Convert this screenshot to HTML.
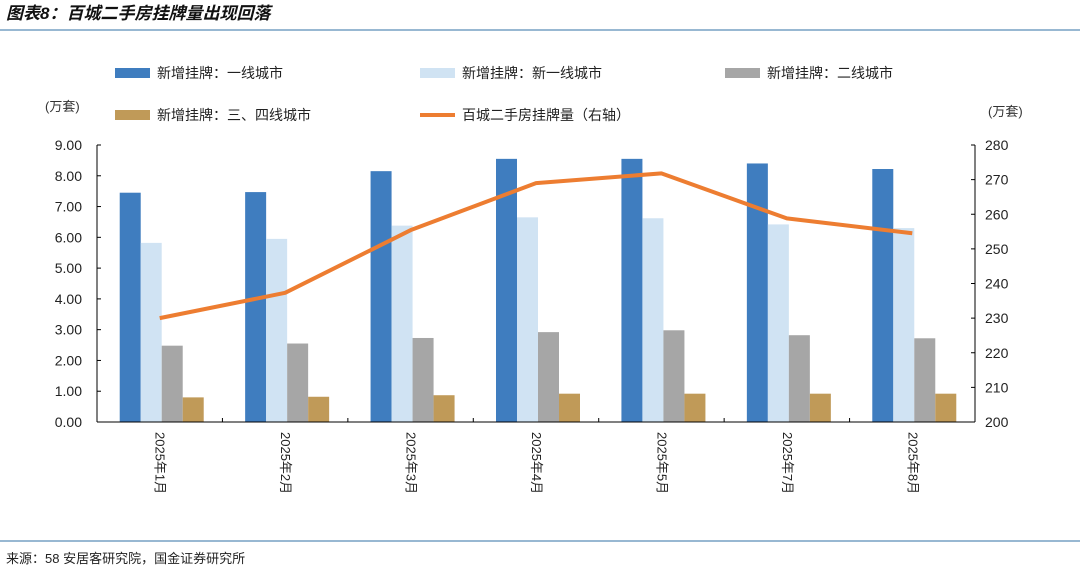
<!DOCTYPE html>
<html><head><meta charset="utf-8"><style>
body{margin:0;background:#fff;width:1080px;height:572px;overflow:hidden;font-family:"Liberation Sans","Noto Sans CJK SC",sans-serif}
svg text{font-family:"Liberation Sans","Noto Sans CJK SC",sans-serif}
</style></head><body>
<svg id="c" width="1080" height="572">
<text x="6" y="19" font-size="17" font-weight="bold" font-style="italic" fill="#111">图表8：百城二手房挂牌量出现回落</text>
<line x1="0" y1="30" x2="1080" y2="30" stroke="#5b8db8" stroke-width="1.2"/>
<line x1="0" y1="541" x2="1080" y2="541" stroke="#5b8db8" stroke-width="1.2"/>
<text x="6" y="563" font-size="13" fill="#222">来源：58 安居客研究院，国金证券研究所</text>
<text x="45" y="111" font-size="13" fill="#333">(万套)</text>
<text x="988" y="116" font-size="13" fill="#333">(万套)</text>
<g>
<rect x="115" y="68" width="35" height="10" fill="#3f7dbf"/>
<text x="157" y="78" font-size="14" fill="#222">新增挂牌：一线城市</text>
<rect x="420" y="68" width="35" height="10" fill="#d0e3f3"/>
<text x="462" y="78" font-size="14" fill="#222">新增挂牌：新一线城市</text>
<rect x="725" y="68" width="35" height="10" fill="#a6a6a6"/>
<text x="767" y="78" font-size="14" fill="#222">新增挂牌：二线城市</text>
<rect x="115" y="110" width="35" height="10" fill="#c09a58"/>
<text x="157" y="120" font-size="14" fill="#222">新增挂牌：三、四线城市</text>
<line x1="420" y1="115" x2="455" y2="115" stroke="#ed7d31" stroke-width="4"/>
<text x="462" y="120" font-size="14" fill="#222">百城二手房挂牌量（右轴）</text>
</g>
<g id="plot"></g>
</svg>
<script>
const categories=["2025年1月","2025年2月","2025年3月","2025年4月","2025年5月","2025年7月","2025年8月"];
const tier1=[7.45,7.47,8.15,8.55,8.55,8.40,8.22];
const newTier1=[5.82,5.95,6.38,6.65,6.62,6.42,6.30];
const tier2=[2.48,2.55,2.73,2.92,2.98,2.82,2.72];
const tier34=[0.80,0.82,0.87,0.92,0.92,0.92,0.92];
const listings=[230.0,237.3,255.4,269.0,271.8,258.8,254.5];
const leftTicks=[0,1,2,3,4,5,6,7,8,9];
const rightTicks=[200,210,220,230,240,250,260,270,280];
const X0=97,X1=975,Y0=422,Y1=145;
const NS="http://www.w3.org/2000/svg";
const g=document.getElementById('plot');
const bw=(X1-X0)/categories.length;
const yL=v=>Y0-(v/9)*(Y0-Y1);
const yR=v=>Y0-((v-200)/80)*(Y0-Y1);
const xC=i=>X0+bw*(i+0.5);
function mk(t,a){const e=document.createElementNS(NS,t);for(const k in a)e.setAttribute(k,a[k]);g.appendChild(e);return e;}
const series=[[tier1,"#3f7dbf","bar-tier1"],[newTier1,"#d0e3f3","bar-new-tier1"],[tier2,"#a6a6a6","bar-tier2"],[tier34,"#c09a58","bar-tier34"]];
const w=21;
series.forEach((s,si)=>{s[0].forEach((v,i)=>{
const r=mk('rect',{x:xC(i)-2*w+2+si*w,y:yL(v),width:w,height:Y0-yL(v),fill:s[1]});


});});
let a=mk('line',{x1:X0,y1:Y1,x2:X0,y2:Y0,stroke:'#000','stroke-width':1});

a=mk('line',{x1:X1,y1:Y1,x2:X1,y2:Y0,stroke:'#000','stroke-width':1});

a=mk('line',{x1:X0,y1:Y0,x2:X1,y2:Y0,stroke:'#000','stroke-width':1});

leftTicks.forEach(v=>{
mk('line',{x1:X0,y1:yL(v),x2:X0+4,y2:yL(v),stroke:'#000'});
const t=mk('text',{x:X0-15,y:yL(v)+5,'font-size':14,'text-anchor':'end',fill:'#222'});t.textContent=v.toFixed(2);

});
rightTicks.forEach(v=>{
mk('line',{x1:X1,y1:yR(v),x2:X1-4,y2:yR(v),stroke:'#000'});
const t=mk('text',{x:X1+10,y:yR(v)+5,'font-size':14,fill:'#222'});t.textContent=v;

});
for(let i=1;i<categories.length;i++)mk('line',{x1:X0+bw*i,y1:Y0,x2:X0+bw*i,y2:Y0-4,stroke:'#000'});
categories.forEach((c,i)=>{
const t=mk('text',{x:0,y:0,'font-size':13,fill:'#222',transform:`translate(${xC(i)-4},432) rotate(90)`});t.textContent=c;

});
const pl=mk('polyline',{points:listings.map((v,i)=>xC(i)+','+yR(v)).join(' '),fill:'none',stroke:'#ed7d31','stroke-width':4,'stroke-linejoin':'round'});

</script>
</body></html>
